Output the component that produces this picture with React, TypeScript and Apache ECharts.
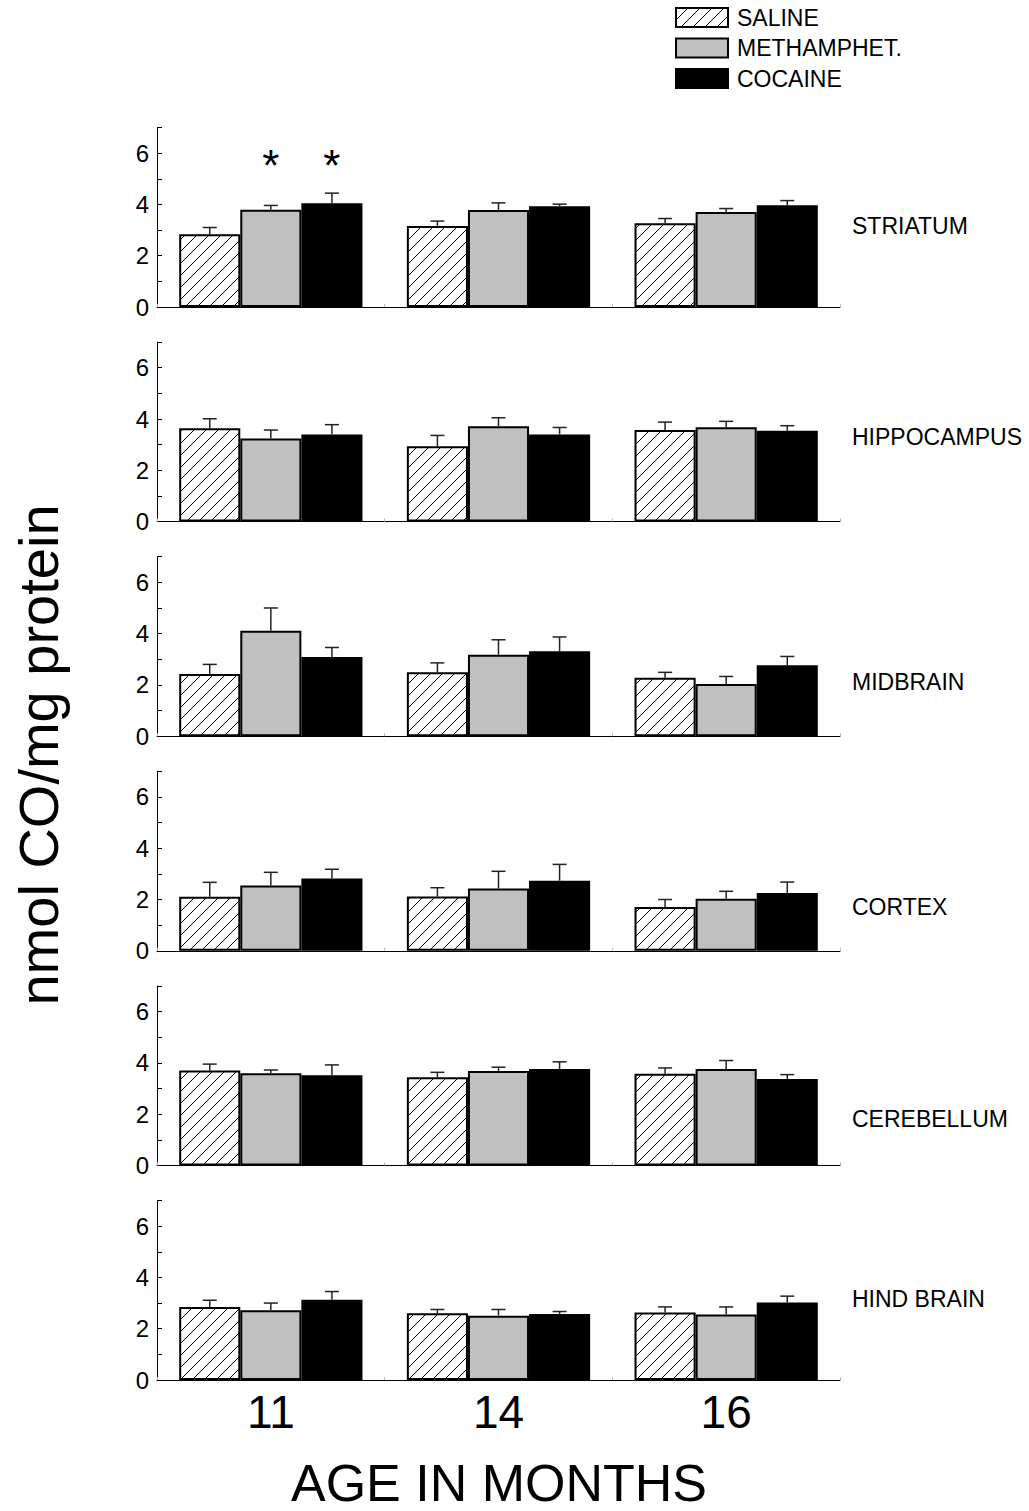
import React, { useEffect, useRef } from "react";
import * as echarts from "echarts";

const AGES = ["11", "14", "16"];
const GROUPS = ["SALINE", "METHAMPHET.", "COCAINE"];
const REGIONS = ["STRIATUM", "HIPPOCAMPUS", "MIDBRAIN", "CORTEX", "CEREBELLUM", "HIND BRAIN"];
const Y_TICKS = [0, 2, 4, 6];

// means [group][age]
const STRIATUM_MEAN = [[2.84, 3.16, 3.27], [3.79, 3.78, 3.70], [4.05, 3.93, 3.97]];
const STRIATUM_SEM = [[0.26, 0.19, 0.18], [0.17, 0.28, 0.14], [0.39, 0.08, 0.18]];
const HIPPOCAMPUS_MEAN = [[3.64, 2.94, 3.57], [3.24, 3.72, 3.68], [3.40, 3.40, 3.54]];
const HIPPOCAMPUS_SEM = [[0.37, 0.42, 0.31], [0.33, 0.33, 0.23], [0.38, 0.27, 0.20]];
const MIDBRAIN_MEAN = [[2.43, 2.49, 2.28], [4.11, 3.18, 2.04], [3.09, 3.31, 2.77]];
const MIDBRAIN_SEM = [[0.37, 0.37, 0.21], [0.89, 0.58, 0.29], [0.37, 0.56, 0.34]];
const CORTEX_MEAN = [[2.11, 2.12, 1.71], [2.55, 2.43, 2.03], [2.82, 2.73, 2.25]];
const CORTEX_SEM = [[0.56, 0.34, 0.29], [0.51, 0.67, 0.29], [0.36, 0.64, 0.43]];
const CEREBELLUM_MEAN = [[3.70, 3.44, 3.57], [3.59, 3.68, 3.76], [3.52, 3.76, 3.37]];
const CEREBELLUM_SEM = [[0.25, 0.19, 0.23], [0.13, 0.15, 0.33], [0.40, 0.28, 0.17]];
const HINDBRAIN_MEAN = [[2.85, 2.60, 2.63], [2.72, 2.51, 2.55], [3.13, 2.57, 3.02]];
const HINDBRAIN_SEM = [[0.26, 0.15, 0.22], [0.28, 0.24, 0.30], [0.32, 0.10, 0.25]];

// significance markers: [regionIndex, ageIndex, groupIndex]
const SIGNIFICANT = [[0, 0, 1], [0, 0, 2]];
const SIG_LEVEL = 5.5;

const MEANS = [STRIATUM_MEAN, HIPPOCAMPUS_MEAN, MIDBRAIN_MEAN, CORTEX_MEAN, CEREBELLUM_MEAN, HINDBRAIN_MEAN];
const SEMS = [STRIATUM_SEM, HIPPOCAMPUS_SEM, MIDBRAIN_SEM, CORTEX_SEM, CEREBELLUM_SEM, HINDBRAIN_SEM];

const FONT = "'Liberation Sans', Arial, Helvetica, sans-serif";
const FILLS = ["hatch", "#c0c0c0", "#000000"];
const BAR_CAT_GAP = 0.195;

function makeHatch() {
  const s = 12;
  const c = document.createElement("canvas");
  c.width = s;
  c.height = s;
  const ctx = c.getContext("2d")!;
  ctx.fillStyle = "#ffffff";
  ctx.fillRect(0, 0, s, s);
  ctx.strokeStyle = "#000000";
  ctx.lineWidth = 1;
  ctx.beginPath();
  ctx.moveTo(-1, s + 1);
  ctx.lineTo(s + 1, -1);
  ctx.moveTo(-1, 1);
  ctx.lineTo(1, -1);
  ctx.moveTo(s - 1, s + 1);
  ctx.lineTo(s + 1, s - 1);
  ctx.stroke();
  return c;
}

export default function App() {
  const ref = useRef<HTMLDivElement>(null);
  useEffect(() => {
    document.body.style.margin = "0";
    document.body.style.overflow = "hidden";
    if (!ref.current) return;
    const chart = echarts.init(ref.current, null, { renderer: "svg" });
    const hatch = { image: makeHatch(), repeat: "repeat" };

    const left = 157;
    const width = 683;
    const topStart = 127.5;
    const pitch = 214.6;
    const height = 179.5;
    const labelY = [226, 437, 682, 907, 1119, 1299];

    const grids: any[] = [];
    const xAxes: any[] = [];
    const yAxes: any[] = [];
    const series: any[] = [];
    const graphics: any[] = [];

    REGIONS.forEach((region, r) => {
      const last = r === REGIONS.length - 1;
      grids.push({ left, width, top: topStart + pitch * r, height });
      xAxes.push({
        type: "category",
        gridIndex: r,
        data: AGES,
        boundaryGap: true,
        axisLine: { lineStyle: { color: "#000", width: 1 } },
        axisTick: { show: true, inside: true, length: 3, lineStyle: { color: "#bbb" } },
        axisLabel: {
          show: last,
          fontSize: 46,
          fontFamily: FONT,
          color: "#000",
          margin: 9,
        },
        splitLine: { show: false },
      });
      yAxes.push({
        type: "value",
        gridIndex: r,
        min: 0,
        max: 7,
        interval: 1,
        axisLine: { show: true, lineStyle: { color: "#000", width: 1 } },
        axisTick: { show: true, inside: true, length: 5, lineStyle: { color: "#000" } },
        axisLabel: {
          fontSize: 24,
          fontFamily: FONT,
          color: "#000",
          margin: 8,
          formatter: (v: number) => (Y_TICKS.indexOf(v) >= 0 ? String(v) : ""),
        },
        splitLine: { show: false },
      });

      GROUPS.forEach((g, gi) => {
        series.push({
          type: "bar",
          name: g,
          xAxisIndex: r,
          yAxisIndex: r,
          data: MEANS[r][gi],
          barGap: "0%",
          barCategoryGap: BAR_CAT_GAP * 100 + "%",
          itemStyle: {
            color: FILLS[gi] === "hatch" ? hatch : FILLS[gi],
            borderColor: "#000",
            borderWidth: 2,
          },
          emphasis: { disabled: true },
          z: 2,
        });
      });

      const errData: any[] = [];
      GROUPS.forEach((g, gi) => {
        AGES.forEach((a, ai) => {
          errData.push([ai, gi, MEANS[r][gi][ai], SEMS[r][gi][ai]]);
        });
      });
      series.push({
        type: "custom",
        name: "err" + r,
        xAxisIndex: r,
        yAxisIndex: r,
        data: errData,
        z: 3,
        encode: { x: 0, y: 2 },
        renderItem: (params: any, api: any) => {
          const ai = api.value(0);
          const gi = api.value(1);
          const m = api.value(2);
          const e = api.value(3);
          const band = api.size([1, 0])[0];
          const bw = (band * (1 - BAR_CAT_GAP)) / 3;
          const cx = api.coord([ai, 0])[0] + (gi - 1) * bw;
          const y0 = api.coord([ai, m])[1];
          const y1 = api.coord([ai, m + e])[1];
          const cap = 7;
          const st = { stroke: "#222", lineWidth: 1.5 };
          return {
            type: "group",
            children: [
              { type: "line", shape: { x1: cx, y1: y0, x2: cx, y2: y1 }, style: st },
              { type: "line", shape: { x1: cx - cap, y1: y1, x2: cx + cap, y2: y1 }, style: st },
            ],
          };
        },
      });

      const sig = SIGNIFICANT.filter((s) => s[0] === r).map((s) => [s[1], s[2], SIG_LEVEL]);
      if (sig.length) {
        series.push({
          type: "custom",
          name: "sig" + r,
          xAxisIndex: r,
          yAxisIndex: r,
          data: sig,
          z: 3,
          encode: { x: 0, y: 2 },
          renderItem: (params: any, api: any) => {
            const ai = api.value(0);
            const gi = api.value(1);
            const band = api.size([1, 0])[0];
            const bw = (band * (1 - BAR_CAT_GAP)) / 3;
            const cx = api.coord([ai, 0])[0] + (gi - 1) * bw;
            const y = api.coord([ai, api.value(2)])[1];
            return {
              type: "text",
              x: cx,
              y: y,
              style: {
                text: "*",
                fontSize: 44,
                fontFamily: FONT,
                fill: "#000",
                align: "center",
                verticalAlign: "middle",
              },
            };
          },
        });
      }

      graphics.push({
        type: "text",
        left: 852,
        top: labelY[r] - 12,
        style: { text: region, fontSize: 23, fontFamily: FONT, fill: "#000" },
      });
    });

    graphics.push({
      type: "text",
      x: 499,
      y: 1483,
      style: {
        text: "AGE IN MONTHS",
        fontSize: 52,
        fontFamily: FONT,
        fill: "#000",
        align: "center",
        verticalAlign: "middle",
      },
    });
    graphics.push({
      type: "text",
      x: 38,
      y: 755,
      rotation: Math.PI / 2,
      style: {
        text: "nmol CO/mg protein",
        fontSize: 56,
        fontFamily: FONT,
        fill: "#000",
        align: "center",
        verticalAlign: "middle",
      },
    });

    chart.setOption({
      animation: false,
      backgroundColor: "#fff",
      legend: {
        data: GROUPS.map((g) => ({ name: g, icon: "rect" })),
        orient: "vertical",
        left: 675,
        top: 6,
        padding: 0,
        itemWidth: 52,
        itemHeight: 19,
        itemGap: 7.5,
        selectedMode: false,
        textStyle: {
          fontSize: 23,
          fontFamily: FONT,
          color: "#000",
          padding: [0, 0, 0, 4],
        },
      },
      grid: grids,
      xAxis: xAxes,
      yAxis: yAxes,
      series,
      graphic: graphics,
      tooltip: { show: false },
    });
    return () => chart.dispose();
  }, []);
  return <div ref={ref} style={{ width: 1029, height: 1511 }} />;
}
